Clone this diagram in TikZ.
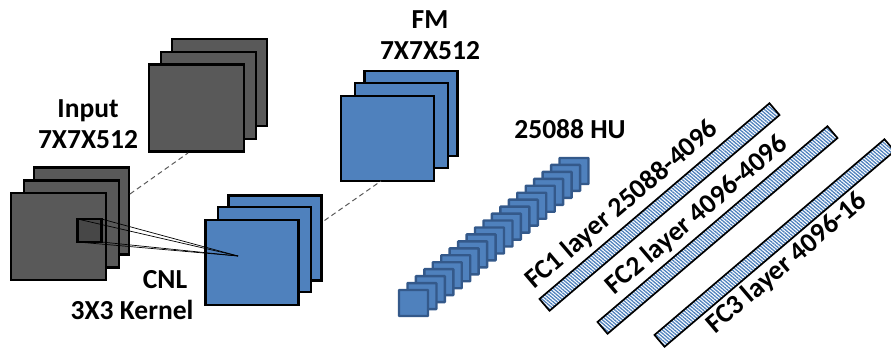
\documentclass[tikz,border=0pt]{standalone}
\usepackage{fontspec}
\setmainfont{Carlito}
\usetikzlibrary{patterns.meta}
\definecolor{greyfill}{HTML}{595959}
\definecolor{bluefill}{HTML}{4F81BD}
\definecolor{blueedge}{HTML}{34598A}
\tikzset{
  sheet/.style={draw=black,line width=2.1pt,anchor=north west,inner sep=0pt,outer sep=0pt},
  greysheet/.style={sheet,fill=greyfill,minimum width=95pt,minimum height=87pt},
  bluesheet/.style={sheet,fill=bluefill,minimum width=93pt,minimum height=85pt},
  unit/.style={draw=blueedge,fill=bluefill,line width=2.4pt,rounded corners=0.6pt,minimum width=29pt,minimum height=26pt,inner sep=0pt,outer sep=0pt},
  fcbar/.style={draw=black,line width=1.7pt,rotate=40.4,minimum width=302pt,minimum height=15.5pt,inner sep=0pt,outer sep=0pt,
    pattern={Lines[angle=-40.4,distance=2.6pt,line width=1.3pt]},pattern color=bluefill},
  lbl/.style={font=\fontsize{27.5}{31}\selectfont\bfseries,text=black,inner sep=0pt,align=center},
  rotlbl/.style={lbl,rotate=40.4},
  conn/.style={black,line width=0.7pt},
  dash link/.style={draw=black!65,line width=1pt,dash pattern=on 5pt off 3.5pt}
}
\begin{document}
\begin{tikzpicture}[x=1pt,y=-1pt]
\useasboundingbox (0,0) rectangle (891,350);
% upper grey stack
\node[greysheet] (ug3) at (172,39) {};
\node[greysheet] (ug2) at (161,52) {};
\node[greysheet] (ug1) at (149,64.5) {};
% input stack
\node[greysheet] (in3) at (34,167.5) {};
\node[greysheet] (in2) at (24,180.5) {};
\node[greysheet] (in1) at (11,193) {};
% CNL stack
\node[bluesheet] (cn3) at (228.5,195.5) {};
\node[bluesheet] (cn2) at (218,207) {};
\node[bluesheet] (cn1) at (205.5,220) {};
% FM stack
\node[bluesheet] (fm3) at (364.5,71) {};
\node[bluesheet] (fm2) at (355,83) {};
\node[bluesheet] (fm1) at (341,96) {};
% kernel
\node[draw=black,line width=2.8pt,fill=black!72,minimum width=24pt,minimum height=23pt,inner sep=0pt,outer sep=0pt] (kern) at (89.5,230.5) {};
\coordinate (tip) at (238,256);
\draw[conn] (kern.north west) -- (tip);
\draw[conn] (kern.north east) -- (tip);
\draw[conn] (kern.south west) -- (tip);
\draw[conn] (kern.south east) -- (tip);
% dashed
\coordinate (da) at (130,194);
\coordinate (db) at (188,153);
\coordinate (dc) at (324.5,220.5);
\coordinate (dd) at (381,181);
\draw[dash link] (da) -- (db);
\draw[dash link] (dc) -- (dd);
% hidden units
\foreach \i in {20,19,...,1}{
  \pgfmathsetmacro{\fx}{413.5+(\i-1)*(574-413.5)/19}
  \pgfmathsetmacro{\fy}{303-(\i-1)*(303-171)/19}
  \node[unit] (u\i) at (\fx,\fy) {};
}
% bars
\node[fcbar] (fc1) at (659.5,207) {};
\node[fcbar] (fc2) at (717.5,230) {};
\node[fcbar] (fc3) at (774.5,243) {};
% labels
\node[lbl] (linput) at (88,124) {Input\\7X7X512};
\node[lbl] (lfm) at (430,35.5) {FM\\7X7X512};
\node[lbl] (lcnl) at (132,295) {\hspace*{66pt}CNL\\3X3 Kernel};
\node[lbl] (lhu) at (570,129) {25088 HU};
\node[rotlbl] (l1) at (622,205) {FC1 layer 25088-4096};
\node[rotlbl] (l2) at (697,215) {FC2 layer 4096-4096};
\node[rotlbl] (l3) at (787,263) {FC3 layer 4096-16};
\end{tikzpicture}
\end{document}
